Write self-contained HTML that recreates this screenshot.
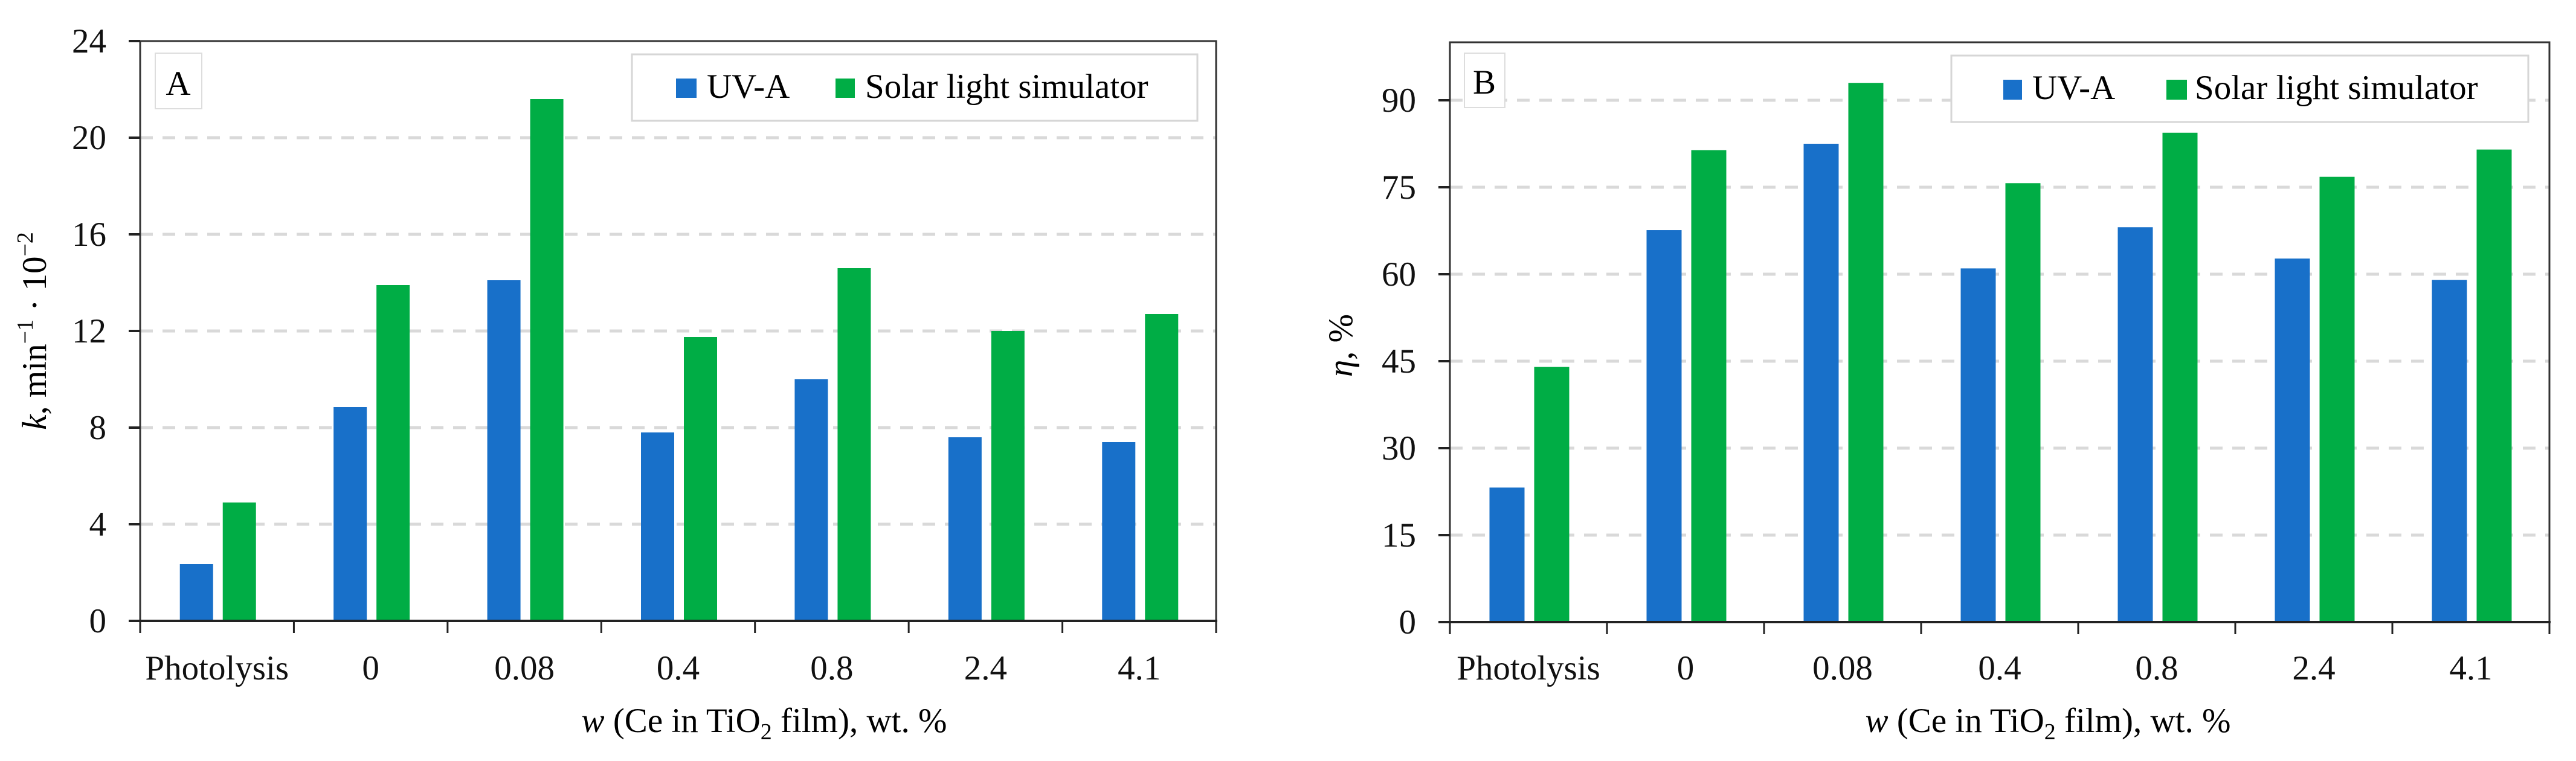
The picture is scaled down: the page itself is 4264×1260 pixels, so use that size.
<!DOCTYPE html>
<html><head><meta charset="utf-8"><style>
html,body{margin:0;padding:0;background:#fff;}
svg, svg text{font-family:"Liberation Serif","DejaVu Serif",serif;}
</style></head><body>
<svg id="fig" width="4264" height="1255" viewBox="0 0 4264 1255" xmlns="http://www.w3.org/2000/svg" font-family="Liberation Serif, DejaVu Serif, serif"></svg>
<script>
const categories = ["Photolysis","0","0.08","0.4","0.8","2.4","4.1"];
const kUV = [2.35, 8.85, 14.1, 7.8, 10.0, 7.6, 7.4];
const kSolar = [4.9, 13.9, 21.6, 11.75, 14.6, 12.0, 12.7];
const etaUV = [23.2, 67.6, 82.5, 61.0, 68.1, 62.7, 59.0];
const etaSolar = [44.0, 81.4, 93.0, 75.7, 84.4, 76.8, 81.5];
const ticksA = [0,4,8,12,16,20,24];
const ticksB = [0,15,30,45,60,75,90];

const NS = "http://www.w3.org/2000/svg";
const FONT = "Liberation Serif, DejaVu Serif, serif";
const svg = document.getElementById("fig");
function mk(tag, attrs, parent){
  const e = document.createElementNS(NS, tag);
  for (const k in attrs) e.setAttribute(k, attrs[k]);
  if (tag === "text") e.setAttribute("font-family", FONT);
  (parent||svg).appendChild(e);
  return e;
}
const BLUE="#1870c9", GREEN="#00ad45";

function chart(cfg){
  const g = mk("g", {});
  
  
  const {x0,x1,yTop,yBot,max} = cfg;
  const yS = v => yBot - v/max*(yBot-yTop);
  const cw = (x1-x0)/categories.length;
  const xC = i => x0 + cw*(i+0.5);
  cfg.ticks.forEach(t=>{
    if (t>0 && t<max){
      const l = mk("line",{x1:x0,x2:x1,y1:yS(t),y2:yS(t),stroke:"#d9d9d9","stroke-width":5,"stroke-dasharray":"21 16"},g);
      
      
    }
  });
  const bw = cfg.bw, gap = cfg.gap;
  categories.forEach((c,i)=>{
    const cx = xC(i)+1.5;
    const b1 = mk("rect",{x:cx-gap/2-bw,y:yS(cfg.s1[i]),width:bw,height:yBot-yS(cfg.s1[i]),fill:BLUE},g);
    
    
    const b2 = mk("rect",{x:cx+gap/2,y:yS(cfg.s2[i]),width:bw,height:yBot-yS(cfg.s2[i]),fill:GREEN},g);
    
    
    const tl = mk("text",{x:xC(i),y:1125,"font-size":57,"text-anchor":"middle",fill:"#111"},g);
    tl.textContent = c;
    
    
  });
  for (let i=0;i<=categories.length;i++){
    const x = x0+cw*i;
    mk("line",{x1:x,x2:x,y1:yBot,y2:yBot+20,stroke:"#222","stroke-width":3},g);
  }
  const fr = mk("rect",{x:x0,y:yTop,width:x1-x0,height:yBot-yTop,fill:"none",stroke:"#333","stroke-width":3},g);
  
  
  mk("line",{x1:x0-2,x2:x1+2,y1:yBot,y2:yBot,stroke:"#222","stroke-width":4},g);
  cfg.ticks.forEach(t=>{
    mk("line",{x1:x0-19,x2:x0,y1:yS(t),y2:yS(t),stroke:"#222","stroke-width":4},g);
    const tl = mk("text",{x:x0-56,y:yS(t)+19,"font-size":57,"text-anchor":"end",fill:"#111"},g);
    tl.textContent = t;
    
    
  });
  return g;
}

chart({name:"chart-a",x0:232,x1:2013,yTop:68,yBot:1028,max:24,ticks:ticksA,s1:kUV,s2:kSolar,bw:55,gap:16});
chart({name:"chart-b",x0:2400,x1:4220,yTop:70,yBot:1030,max:100,ticks:ticksB,s1:etaUV,s2:etaSolar,bw:58,gap:16});
</script>
<script>
(function(){
  const svg=document.getElementById("fig");
  svg.insertAdjacentHTML("beforeend", `
  <g><rect x="257" y="88" width="77" height="92" fill="#fff" stroke="#ddd" stroke-width="2"/><text font-family="Liberation Serif, DejaVu Serif, serif" x="295" y="157" font-size="57" text-anchor="middle">A</text></g>
  <g><rect x="2424" y="88" width="67" height="90" fill="#fff" stroke="#ddd" stroke-width="2"/><text font-family="Liberation Serif, DejaVu Serif, serif" x="2457" y="155" font-size="57" text-anchor="middle">B</text></g>
  <g><rect x="1046" y="90" width="936" height="110" fill="#fff" stroke="#d6d6d6" stroke-width="3"/>
    <rect x="1119" y="130" width="34" height="32" fill="#1870c9"/><text font-family="Liberation Serif, DejaVu Serif, serif" x="1170" y="162" font-size="57">UV-A</text>
    <rect x="1383" y="130" width="32" height="32" fill="#00ad45"/><text font-family="Liberation Serif, DejaVu Serif, serif" x="1432" y="162" font-size="57">Solar light simulator</text></g>
  <g><rect x="3230" y="92" width="955" height="110" fill="#fff" stroke="#d6d6d6" stroke-width="3"/>
    <rect x="3316" y="132" width="31" height="33" fill="#1870c9"/><text font-family="Liberation Serif, DejaVu Serif, serif" x="3364" y="164" font-size="57">UV-A</text>
    <rect x="3586" y="132" width="34" height="33" fill="#00ad45"/><text font-family="Liberation Serif, DejaVu Serif, serif" x="3633" y="164" font-size="57">Solar light simulator</text></g>
  <text font-family="Liberation Serif, DejaVu Serif, serif" x="1265" y="1212" font-size="57" text-anchor="middle"><tspan font-style="italic">w</tspan> (Ce in TiO<tspan font-size="38" dy="12">2</tspan><tspan dy="-12"> film), wt. %</tspan></text>
  <text font-family="Liberation Serif, DejaVu Serif, serif" x="3390" y="1212" font-size="57" text-anchor="middle"><tspan font-style="italic">w</tspan> (Ce in TiO<tspan font-size="38" dy="12">2</tspan><tspan dy="-12"> film), wt. %</tspan></text>
  <text font-family="Liberation Serif, DejaVu Serif, serif" transform="translate(76,548) rotate(-90)" font-size="57" text-anchor="middle"><tspan font-style="italic">k</tspan>, min<tspan font-size="38" dy="-22">−1</tspan><tspan dy="22"> · 10</tspan><tspan font-size="38" dy="-22">−2</tspan></text>
  <text font-family="Liberation Serif, DejaVu Serif, serif" transform="translate(2238,572) rotate(-90)" font-size="57" text-anchor="middle"><tspan font-style="italic">η</tspan>, %</text>
  `);
})();
</script>
</body></html>
